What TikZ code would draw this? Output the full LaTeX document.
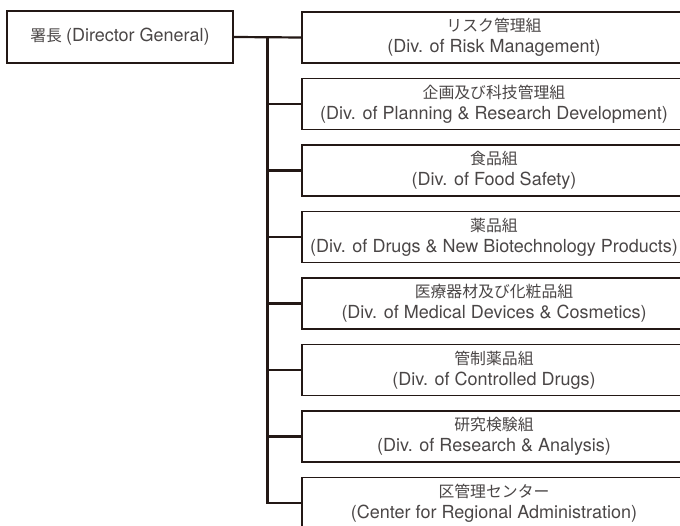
\documentclass[tikz,border=0pt]{standalone}
\usepackage{fontspec}
\setmainfont{TeX Gyre Heros}
\newfontfamily\jp[Scale=0.88]{Noto Sans CJK JP}
\usepackage{tikz}
\usetikzlibrary{calc}
\usepackage{xcolor}
\definecolor{inkline}{HTML}{231815}
\definecolor{inktext}{HTML}{4A4646}
\tikzstyle{head} = [rectangle, minimum width=226pt, minimum height=52pt, text centered, draw=inkline, line width=1.1pt, text=inktext, font=\fontsize{18}{21}\selectfont]
\tikzstyle{division} = [rectangle, minimum width=384pt, minimum height=51pt, align=center, draw=inkline, line width=1.1pt, text=inktext, font=\fontsize{18}{21}\selectfont]
\tikzstyle{link} = [draw=inkline, line width=2.2pt]

\begin{document}
\begin{tikzpicture}[x=1pt, y=1pt, node distance=66.5pt]

\useasboundingbox (0,0) rectangle (680,-526);
\clip (0,0) rectangle (680,-526);

\node (dg) [head] at (120,-37) {{\jp 署長}\hspace{4pt}(Director General)};
\node (d1) [division] at (494,-37.5) {{\jp リスク管理組}\\(Div. of Risk Management)};
\node (d2) [division, below of=d1] {{\jp 企画及び科技管理組}\\(Div. of Planning \& Research Development)};
\node (d3) [division, below of=d2] {{\jp 食品組}\\(Div. of Food Safety)};
\node (d4) [division, below of=d3] {{\jp 薬品組}\\(Div. of Drugs \& New Biotechnology Products)};
\node (d5) [division, below of=d4] {{\jp 医療器材及び化粧品組}\\(Div. of Medical Devices \& Cosmetics)};
\node (d6) [division, below of=d5] {{\jp 管制薬品組}\\(Div. of Controlled Drugs)};
\node (d7) [division, below of=d6] {{\jp 研究検験組}\\(Div. of Research \& Analysis)};
\node (d8) [division, below of=d7] {{\jp 区管理センター}\\(Center for Regional Administration)};

\coordinate (trunk) at ($(dg.east)!0.5!(d1.west)$);

\draw [link] (dg.east) -- (d1.west);
\draw [link] (trunk) |- (d2.west);
\draw [link] (trunk) |- (d3.west);
\draw [link] (trunk) |- (d4.west);
\draw [link] (trunk) |- (d5.west);
\draw [link] (trunk) |- (d6.west);
\draw [link] (trunk) |- (d7.west);
\draw [link] (trunk) |- (d8.west);

\end{tikzpicture}
\end{document}
